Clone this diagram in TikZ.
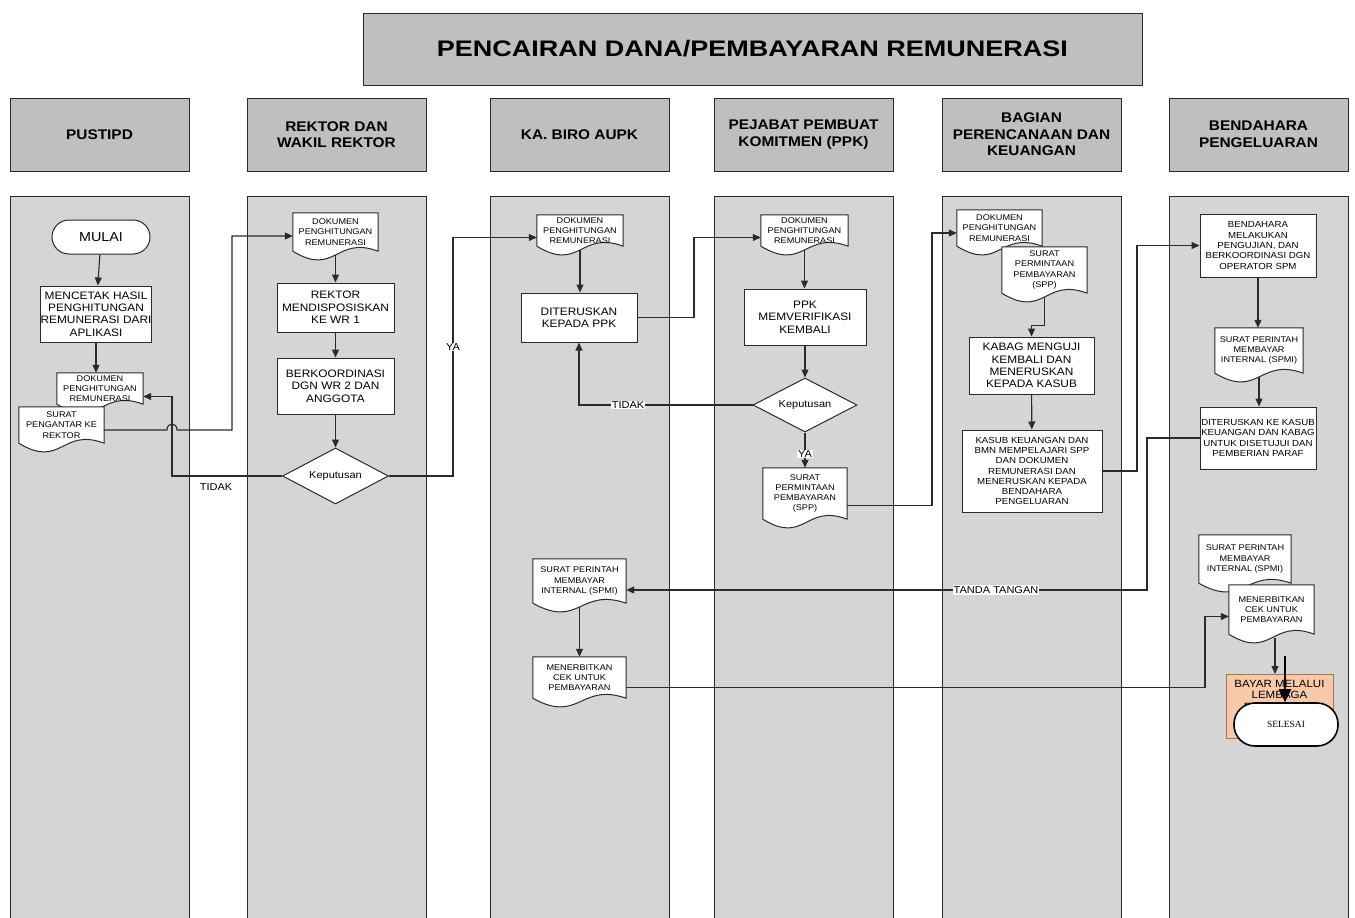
\documentclass[tikz,border=0pt]{standalone}
\usepackage{fontspec}
\setmainfont{Liberation Sans}[FakeStretch=1.1]
\newfontfamily\titlefont{Liberation Sans}[FakeStretch=1.2]
\newfontfamily\selfont{Liberation Serif}
\usetikzlibrary{arrows.meta,shapes.geometric,calc}

\definecolor{lanegray}{HTML}{D5D5D5}
\definecolor{headgray}{HTML}{BFBFBF}
\definecolor{lineclr}{HTML}{2A2A2A}
\definecolor{bayarfill}{HTML}{F7C9A6}
\definecolor{bayardraw}{HTML}{A07858}

\tikzset{
  lanebox/.style={draw=lineclr, fill=lanegray, line width=0.9pt, inner sep=0pt},
  headbox/.style={draw=lineclr, fill=headgray, line width=1pt, align=center, inner sep=0pt, font=\bfseries\fontsize{14}{16.5}\selectfont},
  procbox/.style={draw=lineclr, fill=white, line width=1pt, align=center, inner sep=0pt},
  bigtxt/.style={font=\fontsize{10.8}{12.4}\selectfont},
  midtxt/.style={font=\fontsize{8.8}{10.3}\selectfont},
  smalltxt/.style={font=\fontsize{8.3}{10.3}\selectfont, align=center, inner sep=0pt},
  docframe/.style={inner sep=0pt, draw=none},
  docline/.style={draw=lineclr, fill=white, line width=1pt},
  decision/.style={diamond, draw=lineclr, fill=white, line width=1pt, inner sep=0pt, aspect=1.9, font=\fontsize{10}{12}\selectfont},
  terminal/.style={draw=lineclr, fill=white, line width=1pt, rounded corners=17pt, font=\fontsize{13}{15}\selectfont},
  flow/.style={draw=lineclr, line width=1.1pt, -{Triangle[length=8pt,width=7pt]}},
  lbl/.style={fill=white, inner sep=1pt, font=\fontsize{10}{12}\selectfont},
  bayarbox/.style={draw=bayardraw, fill=bayarfill, line width=1pt, inner sep=0pt},
  endarrow/.style={draw=black, line width=2.4pt, -{Triangle[length=13pt,width=12pt]}},
}

% style, name, x1, y1, x2, y2, text
\newcommand\mkbox[7]{\node[#1, minimum width={(#5-#3)*1pt}, minimum height={(#6-#4)*1pt}] (#2) at ({(#3+#5)/2},{(#4+#6)/2}) {#7};}
% text style, name, x1, top, x2, body bottom, text
\newcommand\mkdoc[7]{%
  \node[docframe, minimum width={(#5-#3)*1pt}, minimum height={(#6-#4)*1pt}] (#2) at ({(#3+#5)/2},{(#4+#6)/2}) {};
  \path[docline] (#2.north west) -- (#2.north east) -- (#2.south east)
    .. controls ($(#2.south east)!0.5!(#2.south west)+(0pt,16pt)$) and ($(#2.south east)!0.5!(#2.south west)+(0pt,-26pt)$) .. (#2.south west) -- cycle;
  \node[smalltxt, #1] (#2-t) at (#2.center) {#7};}

\begin{document}
\begin{tikzpicture}[x=1pt,y=-1pt]
\useasboundingbox (0,0) rectangle (1355,918);
\fill[white] (0,0) rectangle (1355,918);

% title and headers
\mkbox{headbox, font=\titlefont\bfseries\fontsize{22.5}{26}\selectfont}{title}{363}{13}{1142}{85}{PENCAIRAN DANA/PEMBAYARAN REMUNERASI}
\mkbox{headbox}{h1}{10}{98}{189}{171}{PUSTIPD}
\mkbox{headbox}{h2}{247}{98}{426}{171}{REKTOR DAN\\WAKIL REKTOR}
\mkbox{headbox}{h3}{490}{98}{669}{171}{KA. BIRO AUPK}
\mkbox{headbox}{h4}{714}{98}{893}{171}{PEJABAT PEMBUAT\\KOMITMEN (PPK)}
\mkbox{headbox}{h5}{942}{98}{1121}{171}{BAGIAN\\PERENCANAAN DAN\\KEUANGAN}
\mkbox{headbox}{h6}{1169}{98}{1348}{171}{BENDAHARA\\PENGELUARAN}

% lanes
\mkbox{lanebox}{l1}{10}{196}{189}{930}{}
\mkbox{lanebox}{l2}{247}{196}{426}{930}{}
\mkbox{lanebox}{l3}{490}{196}{669}{930}{}
\mkbox{lanebox}{l4}{714}{196}{893}{930}{}
\mkbox{lanebox}{l5}{942}{196}{1121}{930}{}
\mkbox{lanebox}{l6}{1169}{196}{1348}{930}{}

% PUSTIPD
\mkbox{terminal}{mulai}{52}{220}{150}{254}{MULAI}
\mkbox{procbox,bigtxt}{mc}{42}{286}{150}{342}{MENCETAK HASIL\\PENGHITUNGAN\\REMUNERASI DARI\\APLIKASI}
\mkdoc{}{pd}{57}{373}{143}{404}{DOKUMEN\\PENGHITUNGAN\\REMUNERASI}
\mkdoc{}{ps}{19}{407}{104}{443}{SURAT\\PENGANTAR KE\\REKTOR}

% REKTOR
\mkdoc{}{rd}{293}{213}{378}{251}{DOKUMEN\\PENGHITUNGAN\\REMUNERASI}
\mkbox{procbox,bigtxt}{rk}{277}{283}{394}{332}{REKTOR\\MENDISPOSISKAN\\KE WR 1}
\mkbox{procbox,bigtxt}{bk}{277}{358}{394}{414}{BERKOORDINASI\\DGN WR 2 DAN\\ANGGOTA}
\node[decision, minimum width=106pt, minimum height=56pt] (kp1) at (335.5,476) {Keputusan};

% KA BIRO
\mkdoc{}{kd}{537}{215}{623}{246}{DOKUMEN\\PENGHITUNGAN\\REMUNERASI}
\mkbox{procbox,bigtxt}{kb}{521}{293}{637}{342}{DITERUSKAN\\KEPADA PPK}
\mkdoc{}{ks}{533}{559}{626}{603}{SURAT PERINTAH\\MEMBAYAR\\INTERNAL (SPMI)}
\mkdoc{}{kc}{533}{657}{626}{698}{MENERBITKAN\\CEK UNTUK\\PEMBAYARAN}

% PPK
\mkdoc{}{ppd}{761}{215}{848}{246}{DOKUMEN\\PENGHITUNGAN\\REMUNERASI}
\mkbox{procbox,bigtxt}{pv}{744}{289}{866}{345}{PPK\\MEMVERIFIKASI\\KEMBALI}
\node[decision, minimum width=104pt, minimum height=54pt] (kp2) at (805,405) {Keputusan};
\mkdoc{}{spp}{763}{468}{847}{519}{SURAT\\PERMINTAAN\\PEMBAYARAN\\(SPP)}

% BAGIAN
\mkdoc{}{bd}{957}{210}{1042}{246}{DOKUMEN\\PENGHITUNGAN\\REMUNERASI}
\mkdoc{}{bs}{1002}{247}{1087}{293}{SURAT\\PERMINTAAN\\PEMBAYARAN\\(SPP)}
\mkbox{procbox,bigtxt}{kg}{969}{337}{1094}{394}{KABAG MENGUJI\\KEMBALI DAN\\MENERUSKAN\\KEPADA KASUB}
\mkbox{procbox,midtxt}{kk}{962}{430}{1102}{512}{KASUB KEUANGAN DAN\\BMN MEMPELAJARI SPP\\DAN DOKUMEN\\REMUNERASI DAN\\MENERUSKAN KEPADA\\BENDAHARA\\PENGELUARAN}

% BENDAHARA
\mkbox{procbox,midtxt}{eb}{1200}{214}{1316}{277}{BENDAHARA\\MELAKUKAN\\PENGUJIAN, DAN\\BERKOORDINASI DGN\\OPERATOR SPM}
\mkdoc{}{es1}{1215}{328}{1303}{373}{SURAT PERINTAH\\MEMBAYAR\\INTERNAL (SPMI)}
\mkbox{procbox,midtxt}{ed}{1200}{407}{1316}{469}{DITERUSKAN KE KASUB\\KEUANGAN DAN KABAG\\UNTUK DISETUJUI DAN\\PEMBERIAN PARAF}
\mkdoc{}{es2}{1199}{535}{1291}{583}{SURAT PERINTAH\\MEMBAYAR\\INTERNAL (SPMI)}
\mkdoc{}{ec}{1229}{585}{1314}{634}{MENERBITKAN\\CEK UNTUK\\PEMBAYARAN}

% connectors
\draw[flow] (mulai) -- (mc);
\draw[flow] (mc) -- (mc.south |- pd.north);
\draw[flow] ([yshift=-5pt]ps.east) -- (167,430) .. controls (167,422) and (177,422) .. (177,430) -- (232,430) |- ([yshift=-4pt]rd.west);
\draw[flow] (kp1.west) -- (172,476) |- ([yshift=-8pt]pd.east);
\node[lbl] (t1) at (216,487) {TIDAK};

\draw[flow] ([yshift=-4pt]rd.south) -- (rk);
\draw[flow] (rk) -- (bk);
\draw[flow] (bk) -- (kp1);
\draw[flow] (kp1.east) -- (453,476) |- ([yshift=-7pt]kd.west);
\node[lbl] (ya1) at (453,347) {YA};

\draw[flow] ([yshift=-4pt]kd.south) -- (kd.south |- kb.north);
\draw[flow] (kb.east) -- (694,317.5) |- ([yshift=-7pt]ppd.west);
\draw[flow] (kp2.west) -| (kb.south);
\node[lbl] (t2) at (628,405) {TIDAK};

\draw[flow] ([yshift=-4pt]ppd.south) -- (ppd.south |- pv.north);
\draw[flow] (pv) -- (kp2);
\draw[flow] (kp2.south) -- (spp.north);
\node[lbl] (ya2) at (805,454) {YA};
\draw[flow] ([yshift=-12pt]spp.east) -- (932,505.5) |- ([yshift=-5pt]bd.west);

\draw[flow] ([yshift=-4pt]bs.south) -- ++(0,28) -| (kg.north);
\draw[flow] (kg) -- (kk);
\draw[flow] (kk.east) -- (1137,471) |- (eb.west);

\draw[flow] (eb.south) -- (eb.south |- es1.north);
\draw[flow] ([yshift=-4pt]es1.south) -- (es1.south |- ed.north);
\draw[flow] (ed.west) -- (1147,438) |- ([yshift=-9pt]ks.east);
\node[lbl] (tt) at (996,590) {TANDA TANGAN};
\draw[flow] ([yshift=-4pt]ks.south) -- (ks.south |- kc.north);
\draw[flow] ([yshift=-10pt]kc.east) -- (1205,687.5) |- ([yshift=-7pt]ec.west);

\coordinate (thn) at (1275,638);
\draw[flow] (thn) -- (thn |- 0,674);

% end
\mkbox{bayarbox}{ey}{1226}{674}{1333}{738}{}
\node[align=center, inner sep=0pt, font=\fontsize{10.5}{11.5}\selectfont] (ey-t) at (1279.5,695) {BAYAR MELALUI\\LEMBAGA\\PERBANKAN};
\mkbox{terminal, draw=black, line width=1.6pt, rounded corners=21pt, font=\selfont\fontsize{9.5}{11}\selectfont}{selesai}{1234}{703}{1338}{746}{SELESAI}
\coordinate (thk) at (1285,656);
\draw[endarrow] (thk) -- (thk |- selesai.north);
\end{tikzpicture}
\end{document}
